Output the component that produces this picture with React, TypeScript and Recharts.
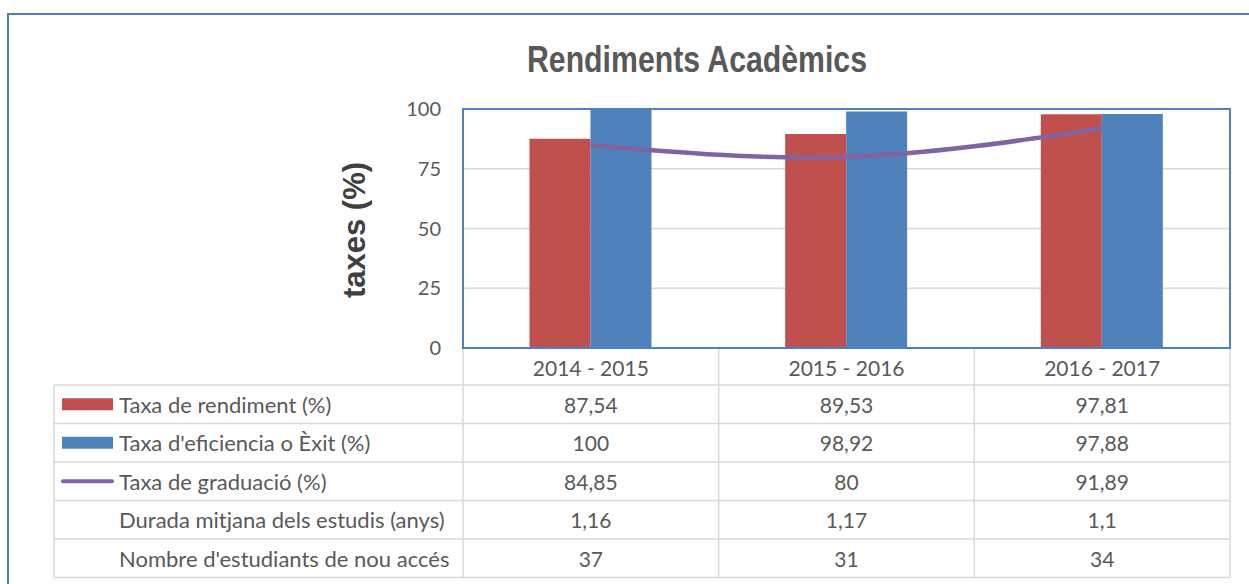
import React from 'react';
import { ComposedChart, Bar, Line, XAxis, YAxis, CartesianGrid } from 'recharts';

const categories = ['2014 - 2015', '2015 - 2016', '2016 - 2017'];
const taxaRendiment = [87.54, 89.53, 97.81];
const taxaEficiencia = [100, 98.92, 97.88];
const taxaGraduacio = [84.85, 80, 91.89];
const duradaMitjana = [1.16, 1.17, 1.1];
const nouAcces = [37, 31, 34];
const yTicks = [0, 25, 50, 75, 100];

const rowLabels = [
  'Taxa de rendiment (%)',
  "Taxa d'eficiencia o Èxit (%)",
  'Taxa de graduació (%)',
  'Durada mitjana dels estudis (anys)',
  "Nombre d'estudiants de nou accés",
];
const rowValues = [taxaRendiment, taxaEficiencia, taxaGraduacio, duradaMitjana, nouAcces];

const data = categories.map((c, i) => ({
  cat: c,
  rend: taxaRendiment[i],
  efic: taxaEficiencia[i],
  grad: taxaGraduacio[i],
}));

const W = 1249;
const H = 584;
const PLOT_L = 463;
const PLOT_R = 1230;
const PLOT_T = 109;
const PLOT_B = 348;
const TABLE_L = 54;
const ROW_TOP = 385;
const ROW_H = 38.5;
const HEADER_Y = 367;

const RED = '#C0504D';
const BLUE = '#4F81BD';
const PURPLE = '#8064A2';
const GRID = '#D9D9D9';
const TEXT = '#595959';
const FONT = 'Lato, "Open Sans", sans-serif';

const fmt = (v: number) => String(v).replace('.', ',');

const TableTick = (props: any) => {
  const { x, payload } = props;
  const idx = payload.index ?? categories.indexOf(payload.value);
  return (
    <g>
      <text x={x} y={HEADER_Y} textAnchor="middle" dominantBaseline="central" fontSize={21} fill={TEXT} fontFamily={FONT}>
        {payload.value}
      </text>
      {rowValues.map((arr, r) => (
        <text
          key={r}
          x={x}
          y={ROW_TOP + ROW_H * r + ROW_H / 2}
          textAnchor="middle"
          dominantBaseline="central"
          fontSize={21}
          fill={TEXT}
          fontFamily={FONT}
        >
          {fmt(arr[idx])}
        </text>
      ))}
    </g>
  );
};

export default function App() {
  const n = categories.length;
  const colW = (PLOT_R - PLOT_L) / n;
  const tableBottom = ROW_TOP + ROW_H * rowLabels.length;
  const colXs = Array.from({ length: n + 1 }, (_, i) => PLOT_L + i * colW);
  return (
    <div style={{ position: 'fixed', left: 0, top: 0, width: W, height: H, overflow: 'hidden', background: '#fff' }}>
      <div
        style={{
          position: 'absolute',
          left: 7,
          top: 13,
          width: 1300,
          height: 700,
          border: `2px solid ${BLUE}`,
          boxSizing: 'border-box',
        }}
      />
      <svg width={W} height={H} style={{ position: 'absolute', left: 0, top: 0 }}>
        <text
          x={697}
          y={72}
          textAnchor="middle"
          fontSize={36}
          fontWeight="bold"
          fill={TEXT}
          fontFamily='"Liberation Sans", Arial, sans-serif'
          textLength={340}
          lengthAdjust="spacingAndGlyphs"
        >
          Rendiments Acadèmics
        </text>
        <text
          x={354}
          y={230}
          transform="rotate(-90 354 230)"
          textAnchor="middle"
          dominantBaseline="central"
          fontSize={32}
          fontWeight="bold"
          fill="#404040"
          fontFamily='"Liberation Sans", Arial, sans-serif'
          textLength={136}
          lengthAdjust="spacingAndGlyphs"
        >
          taxes (%)
        </text>
        {Array.from({ length: rowLabels.length + 1 }, (_, i) => (
          <line key={'h' + i} x1={TABLE_L} x2={PLOT_R} y1={ROW_TOP + ROW_H * i} y2={ROW_TOP + ROW_H * i} stroke={GRID} strokeWidth={1.5} />
        ))}
        <line x1={TABLE_L} x2={TABLE_L} y1={ROW_TOP} y2={tableBottom} stroke={GRID} strokeWidth={1.5} />
        {colXs.map((cx, i) => (
          <line key={'v' + i} x1={cx} x2={cx} y1={PLOT_B} y2={tableBottom} stroke={GRID} strokeWidth={1.5} />
        ))}
        <rect x={62} y={ROW_TOP + ROW_H * 0.5 - 6} width={51} height={12} fill={RED} />
        <rect x={62} y={ROW_TOP + ROW_H * 1.5 - 6} width={51} height={12} fill={BLUE} />
        <line x1={63} x2={112} y1={ROW_TOP + ROW_H * 2.5} y2={ROW_TOP + ROW_H * 2.5} stroke={PURPLE} strokeWidth={4} strokeLinecap="round" />
        {rowLabels.map((l, r) => (
          <text
            key={l}
            x={119}
            y={ROW_TOP + ROW_H * r + ROW_H / 2}
            dominantBaseline="central"
            fontSize={22}
            fill={TEXT}
            fontFamily={FONT}
          >
            {l}
          </text>
        ))}
      </svg>
      <div style={{ position: 'absolute', left: 0, top: 0 }}>
        <ComposedChart
          width={W}
          height={H}
          data={data}
          margin={{ top: PLOT_T, right: W - PLOT_R, left: 0, bottom: 0 }}
          barCategoryGap="26%"
          barGap={0}
        >
          <CartesianGrid vertical={false} stroke={GRID} strokeWidth={1.5} />
          <XAxis
            dataKey="cat"
            height={H - PLOT_B}
            axisLine={{ stroke: BLUE, strokeWidth: 2 }}
            tickLine={false}
            tick={<TableTick />}
            interval={0}
          />
          <YAxis
            width={PLOT_L}
            domain={[0, 100]}
            ticks={yTicks}
            axisLine={{ stroke: BLUE, strokeWidth: 2 }}
            tickLine={false}
            tickSize={6}
            tickMargin={16}
            tick={{ fontSize: 20, fill: TEXT, fontFamily: FONT }}
          />
          <Bar dataKey="rend" fill={RED} isAnimationActive={false} />
          <Bar dataKey="efic" fill={BLUE} isAnimationActive={false} />
          <Line
            dataKey="grad"
            type="natural"
            stroke={PURPLE}
            strokeWidth={4.5}
            dot={false}
            isAnimationActive={false}
          />
        </ComposedChart>
      </div>
      <svg width={W} height={H} style={{ position: 'absolute', left: 0, top: 0, pointerEvents: 'none' }}>
        <rect x={PLOT_L} y={PLOT_T} width={PLOT_R - PLOT_L} height={PLOT_B - PLOT_T} fill="none" stroke={BLUE} strokeWidth={2} />
      </svg>
    </div>
  );
}
